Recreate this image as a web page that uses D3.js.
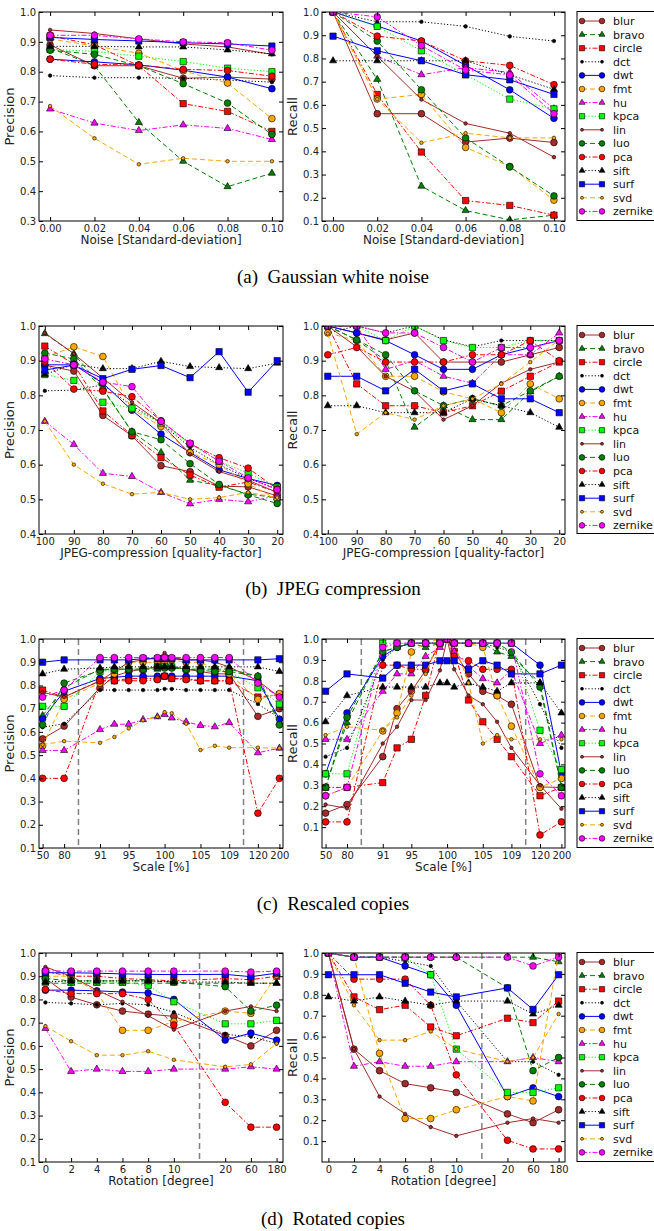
<!DOCTYPE html>
<html>
<head>
<meta charset="utf-8">
<script src="https://cdnjs.cloudflare.com/ajax/libs/d3/7.8.5/d3.min.js"></script>
<style>
  body { margin: 0; background: #fff; }
  text { font-family: "DejaVu Sans", sans-serif; }
</style>
</head>
<body>
<script>
// method names, same order in every data table below
var methods = ["blur", "bravo", "circle", "dct", "dwt", "fmt", "hu", "kpca",
               "lin", "luo", "pca", "sift", "surf", "svd", "zernike"];

// (a) Gaussian white noise
var noiseX = [0.00, 0.02, 0.04, 0.06, 0.08, 0.10];
var noisePrecision = [
  [0.89, 0.82, 0.82, 0.778, 0.782, 0.775],
  [0.88, 0.82, 0.63, 0.50, 0.415, 0.46],
  [0.92, 0.89, 0.82, 0.693, 0.667, 0.60],
  [0.787, 0.78, 0.78, 0.778, 0.772, 0.765],
  [0.842, 0.833, 0.823, 0.805, 0.782, 0.743],
  [0.91, 0.886, 0.862, 0.803, 0.762, 0.643],
  [0.675, 0.628, 0.603, 0.622, 0.61, 0.573],
  [0.875, 0.868, 0.852, 0.834, 0.812, 0.80],
  [0.94, 0.928, 0.91, 0.893, 0.883, 0.858],
  [0.872, 0.858, 0.82, 0.76, 0.695, 0.59],
  [0.842, 0.825, 0.822, 0.808, 0.804, 0.785],
  [0.885, 0.885, 0.883, 0.883, 0.873, 0.86],
  [0.915, 0.908, 0.903, 0.897, 0.893, 0.886],
  [0.685, 0.577, 0.49, 0.51, 0.50, 0.50],
  [0.922, 0.922, 0.91, 0.90, 0.897, 0.872]
];
var noiseRecall = [
  [1.0, 0.562, 0.562, 0.44, 0.457, 0.438],
  [1.0, 0.71, 0.25, 0.145, 0.105, 0.125],
  [1.0, 0.645, 0.397, 0.188, 0.167, 0.125],
  [1.0, 0.958, 0.958, 0.938, 0.895, 0.875],
  [1.0, 0.94, 0.875, 0.77, 0.665, 0.542],
  [1.0, 0.625, 0.645, 0.417, 0.335, 0.19],
  [1.0, 0.81, 0.73, 0.76, 0.74, 0.583],
  [1.0, 0.938, 0.833, 0.73, 0.625, 0.583],
  [1.0, 0.81, 0.623, 0.52, 0.478, 0.375],
  [1.0, 0.875, 0.665, 0.458, 0.333, 0.208],
  [1.0, 0.896, 0.875, 0.79, 0.77, 0.687],
  [0.79, 0.79, 0.79, 0.79, 0.73, 0.667],
  [0.896, 0.833, 0.79, 0.73, 0.708, 0.645],
  [1.0, 0.625, 0.437, 0.478, 0.458, 0.458],
  [1.0, 0.979, 0.855, 0.75, 0.729, 0.562]
];

// (b) JPEG compression
var jpegX = [100, 90, 80, 70, 60, 50, 40, 30, 20];
var jpegPrecision = [
  [0.887, 0.87, 0.742, 0.683, 0.597, 0.58, 0.538, 0.536, 0.51],
  [0.978, 0.92, 0.82, 0.695, 0.635, 0.555, 0.54, 0.515, 0.505],
  [0.942, 0.89, 0.755, 0.685, 0.62, 0.57, 0.535, 0.55, 0.52],
  [0.813, 0.815, 0.83, 0.77, 0.72, 0.65, 0.60, 0.56, 0.53],
  [0.888, 0.888, 0.835, 0.757, 0.688, 0.635, 0.585, 0.56, 0.54],
  [0.91, 0.94, 0.912, 0.76, 0.71, 0.635, 0.60, 0.545, 0.50],
  [0.725, 0.658, 0.575, 0.566, 0.52, 0.487, 0.50, 0.493, 0.51],
  [0.86, 0.843, 0.78, 0.763, 0.72, 0.66, 0.61, 0.575, 0.535],
  [0.98, 0.92, 0.85, 0.78, 0.72, 0.63, 0.58, 0.555, 0.52],
  [0.922, 0.905, 0.817, 0.695, 0.672, 0.603, 0.543, 0.513, 0.488],
  [0.897, 0.818, 0.812, 0.796, 0.727, 0.66, 0.62, 0.59, 0.53],
  [0.86, 0.89, 0.877, 0.877, 0.898, 0.883, 0.88, 0.877, 0.893],
  [0.873, 0.887, 0.848, 0.875, 0.886, 0.851, 0.926, 0.809, 0.90],
  [0.725, 0.60, 0.545, 0.515, 0.52, 0.50, 0.505, 0.52, 0.505],
  [0.905, 0.888, 0.838, 0.825, 0.725, 0.662, 0.61, 0.562, 0.528]
];
var jpegRecall = [
  [1.0, 0.98, 0.96, 0.98, 0.896, 0.896, 0.896, 0.917, 0.938],
  [1.0, 0.96, 0.90, 0.708, 0.77, 0.73, 0.73, 0.81, 0.855],
  [1.0, 0.833, 0.77, 0.77, 0.75, 0.77, 0.812, 0.855, 0.896],
  [0.98, 1.0, 0.98, 1.0, 0.96, 0.94, 0.958, 0.958, 0.958],
  [1.0, 0.98, 0.958, 0.917, 0.875, 0.875, 0.917, 0.938, 0.958],
  [0.98, 0.958, 0.855, 0.855, 0.81, 0.79, 0.75, 0.833, 0.79],
  [1.0, 1.0, 0.875, 0.90, 0.855, 0.835, 0.917, 0.917, 0.98],
  [1.0, 1.0, 0.958, 1.0, 0.958, 0.938, 0.938, 0.958, 0.958],
  [1.0, 0.94, 0.855, 0.812, 0.73, 0.77, 0.835, 0.875, 0.896],
  [1.0, 0.96, 0.917, 0.813, 0.77, 0.79, 0.77, 0.813, 0.855],
  [0.917, 0.938, 0.896, 0.896, 0.896, 0.917, 0.917, 0.958, 0.90],
  [0.77, 0.77, 0.75, 0.75, 0.75, 0.79, 0.77, 0.75, 0.708],
  [0.855, 0.855, 0.813, 0.875, 0.813, 0.833, 0.79, 0.79, 0.75],
  [0.978, 0.688, 0.75, 0.73, 0.77, 0.79, 0.833, 0.896, 0.96],
  [1.0, 1.0, 0.98, 0.98, 0.938, 0.896, 0.938, 0.938, 0.958]
];

// (c) Rescaled copies
var scaleX = [50, 80, 91, 93, 95, 97, 99, 100, 101, 103, 105, 107, 109, 120, 200];
var scaleTicks = [50, 80, 91, 95, 100, 105, 109, 120, 200];
var scaleMarks = [84.4, 114.5];
var scalePrecision = [
  [0.57, 0.625, 0.79, 0.84, 0.86, 0.87, 0.88, 0.88, 0.88, 0.87, 0.86, 0.85, 0.85, 0.667, 0.70],
  [0.67, 0.79, 0.87, 0.87, 0.87, 0.87, 0.87, 0.88, 0.88, 0.87, 0.87, 0.87, 0.87, 0.84, 0.64],
  [0.78, 0.75, 0.82, 0.82, 0.83, 0.83, 0.83, 0.84, 0.83, 0.83, 0.82, 0.82, 0.82, 0.75, 0.76],
  [0.62, 0.635, 0.78, 0.78, 0.78, 0.78, 0.78, 0.785, 0.785, 0.78, 0.78, 0.78, 0.78, 0.72, 0.66],
  [0.655, 0.775, 0.83, 0.835, 0.84, 0.84, 0.84, 0.84, 0.84, 0.84, 0.84, 0.84, 0.84, 0.82, 0.655],
  [0.54, 0.74, 0.81, 0.85, 0.90, 0.90, 0.90, 0.90, 0.91, 0.90, 0.90, 0.87, 0.85, 0.74, 0.765],
  [0.52, 0.52, 0.61, 0.633, 0.633, 0.653, 0.665, 0.675, 0.66, 0.643, 0.628, 0.622, 0.64, 0.51, 0.53],
  [0.71, 0.71, 0.86, 0.865, 0.87, 0.87, 0.88, 0.88, 0.88, 0.87, 0.87, 0.87, 0.86, 0.79, 0.72],
  [0.77, 0.75, 0.82, 0.86, 0.90, 0.91, 0.92, 0.94, 0.92, 0.91, 0.91, 0.90, 0.88, 0.82, 0.75],
  [0.63, 0.81, 0.865, 0.87, 0.87, 0.87, 0.88, 0.875, 0.875, 0.87, 0.865, 0.86, 0.86, 0.84, 0.63],
  [0.40, 0.40, 0.82, 0.82, 0.82, 0.82, 0.825, 0.84, 0.83, 0.825, 0.82, 0.82, 0.82, 0.25, 0.40],
  [0.85, 0.87, 0.875, 0.88, 0.88, 0.88, 0.88, 0.88, 0.88, 0.88, 0.88, 0.88, 0.88, 0.88, 0.86],
  [0.90, 0.91, 0.91, 0.91, 0.91, 0.915, 0.915, 0.915, 0.915, 0.91, 0.91, 0.91, 0.91, 0.91, 0.915],
  [0.545, 0.56, 0.553, 0.578, 0.615, 0.65, 0.665, 0.685, 0.68, 0.635, 0.522, 0.54, 0.532, 0.532, 0.53],
  [0.75, 0.78, 0.92, 0.92, 0.92, 0.92, 0.92, 0.92, 0.92, 0.92, 0.92, 0.92, 0.92, 0.81, 0.75]
];
var scaleRecall = [
  [0.167, 0.208, 0.437, 0.667, 0.75, 0.85, 0.98, 1.0, 0.94, 0.833, 0.75, 0.729, 0.688, 0.292, 0.29],
  [0.29, 0.60, 0.94, 0.96, 0.98, 0.96, 0.98, 1.0, 0.98, 0.98, 0.98, 0.938, 0.917, 0.79, 0.29],
  [0.29, 0.29, 0.313, 0.479, 0.52, 0.73, 1.0, 1.0, 0.94, 0.708, 0.604, 0.52, 0.437, 0.25, 0.29],
  [0.437, 0.479, 0.90, 0.96, 0.98, 0.98, 0.98, 1.0, 0.98, 0.98, 0.98, 0.96, 0.94, 0.688, 0.479],
  [0.355, 0.646, 0.917, 0.96, 0.98, 0.98, 0.98, 1.0, 0.98, 0.98, 0.98, 0.98, 0.98, 0.875, 0.355],
  [0.25, 0.29, 0.56, 0.646, 0.938, 0.98, 1.0, 1.0, 0.98, 0.98, 0.96, 0.729, 0.583, 0.29, 0.333],
  [0.52, 0.52, 0.75, 0.833, 0.833, 0.917, 0.96, 1.0, 0.94, 0.87, 0.81, 0.79, 0.85, 0.50, 0.54],
  [0.355, 0.355, 0.98, 0.98, 0.98, 0.98, 0.98, 1.0, 0.98, 0.98, 0.98, 0.98, 0.98, 0.563, 0.375],
  [0.208, 0.19, 0.50, 0.58, 0.708, 0.708, 0.85, 1.0, 0.855, 0.73, 0.688, 0.604, 0.479, 0.30, 0.188],
  [0.29, 0.625, 0.94, 0.96, 0.98, 0.98, 0.98, 1.0, 0.98, 0.98, 0.98, 0.98, 0.938, 0.77, 0.29],
  [0.125, 0.125, 0.875, 0.875, 0.855, 0.855, 0.98, 1.0, 0.917, 0.896, 0.855, 0.855, 0.855, 0.0625, 0.125],
  [0.604, 0.729, 0.77, 0.77, 0.77, 0.77, 0.79, 0.79, 0.77, 0.79, 0.77, 0.75, 0.79, 0.79, 0.646],
  [0.75, 0.833, 0.813, 0.875, 0.875, 0.875, 0.896, 0.896, 0.896, 0.855, 0.896, 0.875, 0.833, 0.833, 0.875],
  [0.54, 0.58, 0.563, 0.625, 0.729, 0.833, 1.0, 1.0, 0.98, 0.79, 0.50, 0.54, 0.52, 0.52, 0.52],
  [0.25, 0.29, 0.96, 0.98, 0.98, 0.98, 0.98, 1.0, 0.98, 0.98, 0.98, 0.98, 0.98, 0.355, 0.25]
];

// (d) Rotated copies
var rotX = [0, 2, 4, 6, 8, 10, 20, 60, 180];
var rotMarks = [15];
var rotPrecision = [
  [0.89, 0.81, 0.777, 0.75, 0.737, 0.727, 0.645, 0.60, 0.667],
  [0.87, 0.87, 0.87, 0.87, 0.87, 0.87, 0.87, 0.87, 0.87],
  [0.92, 0.90, 0.90, 0.89, 0.885, 0.88, 0.89, 0.885, 0.90],
  [0.787, 0.783, 0.777, 0.783, 0.777, 0.745, 0.65, 0.64, 0.61],
  [0.84, 0.84, 0.837, 0.832, 0.828, 0.80, 0.625, 0.655, 0.625],
  [0.90, 0.90, 0.83, 0.667, 0.667, 0.705, 0.75, 0.74, 0.905],
  [0.675, 0.49, 0.50, 0.49, 0.49, 0.50, 0.50, 0.51, 0.50],
  [0.88, 0.875, 0.875, 0.875, 0.86, 0.79, 0.695, 0.695, 0.71],
  [0.94, 0.90, 0.84, 0.79, 0.73, 0.67, 0.75, 0.77, 0.75],
  [0.89, 0.88, 0.88, 0.88, 0.88, 0.875, 0.855, 0.75, 0.775],
  [0.843, 0.825, 0.825, 0.825, 0.80, 0.69, 0.357, 0.25, 0.25],
  [0.875, 0.88, 0.88, 0.88, 0.88, 0.875, 0.875, 0.87, 0.87],
  [0.915, 0.915, 0.913, 0.91, 0.908, 0.907, 0.908, 0.898, 0.913],
  [0.685, 0.62, 0.56, 0.56, 0.577, 0.54, 0.51, 0.52, 0.61],
  [0.923, 0.922, 0.922, 0.922, 0.922, 0.922, 0.922, 0.918, 0.922]
];
var rotRecall = [
  [1.0, 0.54, 0.437, 0.375, 0.355, 0.333, 0.23, 0.188, 0.25],
  [1.0, 0.98, 0.98, 0.98, 0.98, 0.98, 0.98, 0.98, 0.958],
  [1.0, 0.79, 0.729, 0.75, 0.646, 0.604, 0.688, 0.667, 0.77],
  [1.0, 0.98, 0.98, 0.96, 0.938, 0.77, 0.48, 0.48, 0.417],
  [1.0, 0.98, 0.98, 0.938, 0.896, 0.75, 0.313, 0.355, 0.313],
  [1.0, 0.98, 0.52, 0.208, 0.208, 0.25, 0.313, 0.292, 1.0],
  [1.0, 0.458, 0.48, 0.458, 0.458, 0.48, 0.48, 0.50, 0.48],
  [1.0, 0.98, 0.98, 0.98, 0.896, 0.54, 0.333, 0.333, 0.355],
  [1.0, 0.54, 0.313, 0.23, 0.167, 0.125, 0.188, 0.208, 0.188],
  [1.0, 0.98, 0.98, 0.98, 0.98, 0.98, 0.833, 0.437, 0.50],
  [1.0, 0.875, 0.875, 0.875, 0.75, 0.417, 0.104, 0.0625, 0.0625],
  [0.79, 0.77, 0.79, 0.77, 0.75, 0.77, 0.77, 0.708, 0.75],
  [0.896, 0.896, 0.896, 0.855, 0.813, 0.79, 0.833, 0.73, 0.896],
  [1.0, 0.75, 0.583, 0.583, 0.625, 0.54, 0.48, 0.50, 0.708],
  [1.0, 0.98, 0.98, 0.98, 0.98, 0.98, 0.98, 0.938, 0.98]
];

var captions = ["(a)\u00a0\u00a0Gaussian white noise", "(b)\u00a0\u00a0JPEG compression",
                "(c)\u00a0\u00a0Rescaled copies", "(d)\u00a0\u00a0Rotated copies"];

// line / marker style per method
var styles = {
  blur:    { color: "#a52a2a", dash: null,      marker: "circle" },
  bravo:   { color: "#008000", dash: "dashed",  marker: "triangle" },
  circle:  { color: "#ff0000", dash: "dashdot", marker: "square" },
  dct:     { color: "#000000", dash: "dotted",  marker: "dot" },
  dwt:     { color: "#0000ff", dash: null,      marker: "circle" },
  fmt:     { color: "#ffa500", dash: "dashed",  marker: "circle" },
  hu:      { color: "#ff00ff", dash: "dashdot", marker: "triangle" },
  kpca:    { color: "#00ff00", dash: "dotted",  marker: "square" },
  lin:     { color: "#a52a2a", dash: null,      marker: "dot" },
  luo:     { color: "#008000", dash: "dashed",  marker: "circle" },
  pca:     { color: "#ff0000", dash: "dashdot", marker: "circle" },
  sift:    { color: "#000000", dash: "dotted",  marker: "triangle" },
  surf:    { color: "#0000ff", dash: null,      marker: "square" },
  svd:     { color: "#ffa500", dash: "dashed",  marker: "dot" },
  zernike: { color: "#ff00ff", dash: "dashdot", marker: "circle" }
};
var dashes = { dashed: "5,3", dashdot: "5,2,1.5,2", dotted: "1.2,2" };
var symbolSize = { circle: 36, square: 40, triangle: 22, dot: 10 };
var symbolType = { circle: d3.symbolCircle, square: d3.symbolSquare,
                   triangle: d3.symbolTriangle, dot: d3.symbolCircle };

var svg = d3.select("body").append("svg").attr("width", 654).attr("height", 1231);

var cols = [{ x0: 39, x1: 283 }, { x0: 322, x1: 565 }];
var rows = [
  { y0: 12, y1: 221, cap: 283 },
  { y0: 326, y1: 534, cap: 595 },
  { y0: 639, y1: 848, cap: 910 },
  { y0: 953, y1: 1162, cap: 1225 }
];

var rowSpecs = [
  { x: noiseX, ticks: noiseX, fmt: d3.format(".2f"), knots: [-0.005, 0.105], pos: [-0.005, 0.105],
    dom: [-0.005, 0.105], marks: [], label: "Noise [Standard-deviation]",
    y: [[0.3, 1.0], [0.1, 1.0]], data: [noisePrecision, noiseRecall] },
  { x: jpegX, ticks: jpegX, fmt: d3.format("d"), knots: [102, 18], pos: [102, 18],
    dom: [102, 18], marks: [], label: "JPEG-compression [quality-factor]",
    y: [[0.4, 1.0], [0.4, 1.0]], data: [jpegPrecision, jpegRecall] },
  { x: scaleX, ticks: scaleTicks, fmt: d3.format("d"), knots: [50, 80, 91, 109, 120, 200],
    pos: [0, 3, 8, 26, 30, 33], dom: [-0.5, 33.5], marks: scaleMarks, label: "Scale [%]",
    y: [[0.1, 1.0], [0.0, 1.0]], data: [scalePrecision, scaleRecall] },
  { x: rotX, ticks: rotX, fmt: d3.format("d"), knots: [0, 10, 20, 60, 180],
    pos: [0, 5, 7, 8, 9], dom: [-0.25, 9.25], marks: rotMarks, label: "Rotation [degree]",
    y: [[0.1, 1.0], [0.0, 1.0]], data: [rotPrecision, rotRecall] }
];

var clipCount = 0;

function symbolPath(m, k) {
  return d3.symbol().type(symbolType[m]).size(symbolSize[m] * (k || 1))();
}

function drawPanel(spec, row, col, ci) {
  var c = cols[ci];
  var px = d3.scaleLinear().domain(spec.dom).range([c.x0, c.x1]);
  var x = d3.scaleLinear().domain(spec.knots).range(spec.pos.map(px));
  var yd = spec.y[ci];
  var y = d3.scaleLinear().domain(yd).range([row.y1, row.y0]);
  var g = svg.append("g");

  var id = "clip" + (clipCount++);
  svg.append("clipPath").attr("id", id).append("rect")
    .attr("x", c.x0).attr("y", row.y0).attr("width", c.x1 - c.x0).attr("height", row.y1 - row.y0);

  var plot = g.append("g").attr("clip-path", "url(#" + id + ")");

  spec.marks.forEach(function (v) {
    plot.append("line")
      .attr("x1", x(v)).attr("x2", x(v)).attr("y1", row.y0).attr("y2", row.y1)
      .attr("stroke", "#808080").attr("stroke-width", 1.5).attr("stroke-dasharray", "6,4");
  });

  var line = d3.line().x(function (d) { return x(d[0]); }).y(function (d) { return y(d[1]); });
  var table = spec.data[ci];

  methods.forEach(function (m, i) {
    var st = styles[m];
    var pts = spec.x.map(function (v, j) { return [v, table[i][j]]; });
    plot.append("path").datum(pts)
      .attr("d", line).attr("fill", "none")
      .attr("stroke", st.color).attr("stroke-width", 1)
      .attr("stroke-dasharray", st.dash ? dashes[st.dash] : null);
    plot.selectAll(null).data(pts).enter().append("path")
      .attr("d", symbolPath(st.marker))
      .attr("transform", function (d) { return "translate(" + x(d[0]) + "," + y(d[1]) + ")"; })
      .attr("fill", st.color).attr("stroke", "#000").attr("stroke-width", 0.6);
  });

  var yticks = d3.range(Math.round(yd[0] * 10), 11).map(function (v) { return v / 10; })
    .filter(function (v) { return v >= 0.1; });

  g.append("g").attr("transform", "translate(0," + row.y1 + ")")
    .call(d3.axisBottom(x).tickValues(spec.ticks).tickFormat(spec.fmt)
      .tickSizeInner(-4).tickSizeOuter(0).tickPadding(4));
  g.append("g").attr("transform", "translate(0," + row.y0 + ")")
    .call(d3.axisTop(x).tickValues(spec.ticks).tickFormat("").tickSizeInner(-4).tickSizeOuter(0));
  g.append("g").attr("transform", "translate(" + c.x0 + ",0)")
    .call(d3.axisLeft(y).tickValues(yticks).tickFormat(d3.format(".1f"))
      .tickSizeInner(-4).tickSizeOuter(0).tickPadding(3));
  g.append("g").attr("transform", "translate(" + c.x1 + ",0)")
    .call(d3.axisRight(y).tickValues(yticks).tickFormat("").tickSizeInner(-4).tickSizeOuter(0));
  g.selectAll(".domain").remove();
  g.selectAll(".tick line").attr("stroke", "#000");
  g.selectAll(".tick text").attr("fill", "#222").style("font-size", "10px")
    .style("font-family", "'DejaVu Sans', sans-serif");

  g.append("rect").attr("x", c.x0).attr("y", row.y0)
    .attr("width", c.x1 - c.x0).attr("height", row.y1 - row.y0)
    .attr("fill", "none").attr("stroke", "#000").attr("stroke-width", 1);

  g.append("text").attr("x", (c.x0 + c.x1) / 2).attr("y", row.y1 + 23)
    .attr("text-anchor", "middle").style("font-size", "12px").attr("fill", "#222")
    .text(spec.label);
  var ylx = ci === 0 ? 14 : 297;
  g.append("text").attr("transform", "translate(" + ylx + "," + ((row.y0 + row.y1) / 2) + ") rotate(-90)")
    .attr("text-anchor", "middle").style("font-size", "13px").attr("fill", "#222")
    .text(ci === 0 ? "Precision" : "Recall");
}

function drawLegend(row) {
  var g = svg.append("g");
  g.append("rect").attr("x", 577).attr("y", row.y0 - 0.5).attr("width", 90)
    .attr("height", row.y1 - row.y0).attr("fill", "#fff").attr("stroke", "#000").attr("stroke-width", 1);
  methods.forEach(function (m, i) {
    var st = styles[m];
    var yy = row.y0 + 9 + i * 13.6;
    g.append("line").attr("x1", 582).attr("x2", 602).attr("y1", yy).attr("y2", yy)
      .attr("stroke", st.color).attr("stroke-width", 1)
      .attr("stroke-dasharray", st.dash ? dashes[st.dash] : null);
    [582, 602].forEach(function (xx) {
      g.append("path").attr("d", symbolPath(st.marker, 0.7))
        .attr("transform", "translate(" + xx + "," + yy + ")")
        .attr("fill", st.color).attr("stroke", "#000").attr("stroke-width", 0.6);
    });
    g.append("text").attr("x", 613).attr("y", yy + 4).style("font-size", "11px")
      .attr("fill", "#111").text(m);
  });
}

rowSpecs.forEach(function (spec, r) {
  drawPanel(spec, rows[r], r, 0);
  drawPanel(spec, rows[r], r, 1);
  drawLegend(rows[r]);
  svg.append("text").attr("x", 333).attr("y", rows[r].cap)
    .attr("text-anchor", "middle")
    .style("font-family", "'Liberation Serif', 'Times New Roman', serif")
    .style("font-size", "19px").attr("fill", "#000")
    .text(captions[r]);
});
</script>
</body>
</html>
